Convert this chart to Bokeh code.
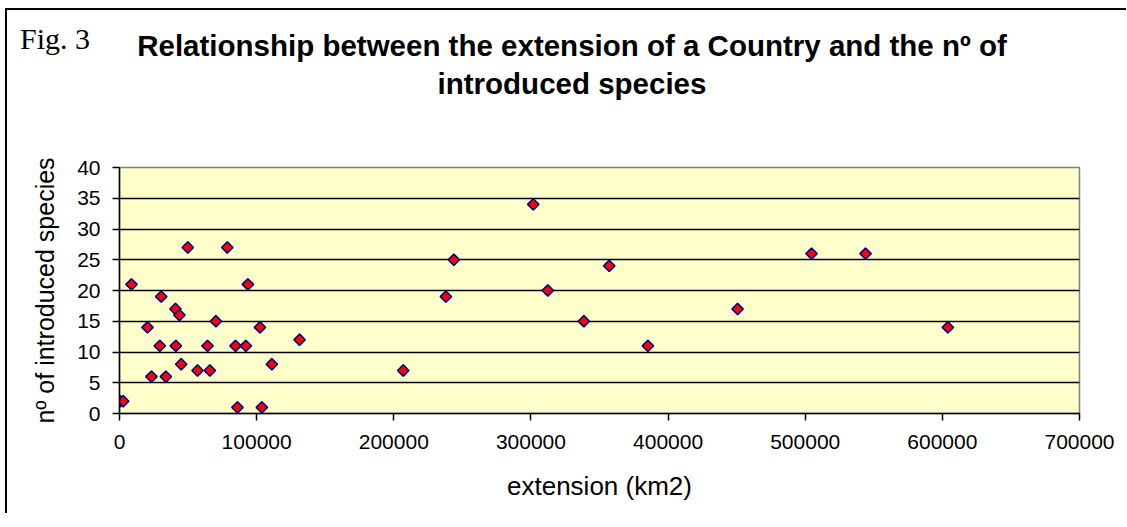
import math
from bokeh.plotting import figure
from bokeh.layouts import column
from bokeh.models import Range1d, FixedTicker, BasicTickFormatter, ColumnDataSource, Div
from bokeh.embed import file_html
from bokeh.resources import INLINE

# ---- data ----
extension_km2 = [500, 2700, 8750, 20400, 23300, 29400, 30400, 33800, 40800, 43700,
                 41100, 45000, 49800, 56900, 64200, 65900, 70300, 78600, 84600, 86000,
                 92100, 93600, 102400, 103800, 111100, 131300, 206900, 238000, 243800, 301700,
                 312300, 338600, 357100, 385300, 450700, 504600, 544000, 604000]
introduced_species = [2, 2, 21, 14, 6, 11, 19, 6, 17, 16,
                      11, 8, 27, 7, 11, 7, 15, 27, 11, 1,
                      11, 21, 14, 1, 8, 12, 7, 19, 25, 34,
                      20, 15, 24, 11, 17, 26, 26, 14]
x_ticks = [0, 100000, 200000, 300000, 400000, 500000, 600000, 700000]
y_ticks = [0, 5, 10, 15, 20, 25, 30, 35, 40]

fig_label = "Fig. 3"
title_line1 = "Relationship between the extension of a Country and the nº of"
title_line2 = "introduced species"
x_label = "extension (km2)"
y_label = "nº of introduced species"

source = ColumnDataSource(data=dict(x=extension_km2, y=introduced_species))

W = 1119

# ---- heading (figure number + two-line bold title) ----
heading_html = (
    '<div style="position:relative;width:%dpx;height:100px;">' % W
    + '<div style="position:absolute;left:13px;top:14px;white-space:nowrap;'
    'font-family:\'Liberation Serif\';font-size:30px;line-height:30px;color:black;">'
    + fig_label + '</div>'
    '<div style="position:absolute;left:65px;width:1000px;top:17px;text-align:center;'
    'font-family:\'Liberation Sans\';font-weight:bold;font-size:29.5px;line-height:38px;color:black;">'
    + title_line1 + '<br>' + title_line2 + '</div>'
    '</div>'
)
heading = Div(text=heading_html, width=W, height=100, margin=0)

p = figure(width=W, height=403,
           x_range=Range1d(x_ticks[0], x_ticks[-1]),
           y_range=Range1d(y_ticks[0], y_ticks[-1]),
           output_backend="svg", toolbar_location=None,
           min_border_left=112, min_border_right=W - 112 - 960,
           min_border_top=57, min_border_bottom=100, margin=0)

p.background_fill_color = "#FFFFCC"
p.border_fill_color = "white"
p.outline_line_color = "#808080"
p.outline_line_width = 1.5

# grid
p.xgrid.grid_line_color = None
p.ygrid.ticker = FixedTicker(ticks=y_ticks[1:-1])
p.ygrid.grid_line_color = "black"
p.ygrid.grid_line_width = 1.5

# axes
p.xaxis.ticker = FixedTicker(ticks=x_ticks)
p.yaxis.ticker = FixedTicker(ticks=y_ticks)
p.xaxis.formatter = BasicTickFormatter(use_scientific=False)
for ax in (p.xaxis[0], p.yaxis[0]):
    ax.axis_line_color = "black"
    ax.axis_line_width = 1.5
    ax.major_tick_line_color = "black"
    ax.major_tick_line_width = 1.5
    ax.major_tick_out = 7
    ax.major_tick_in = 0
    ax.minor_tick_line_color = None
    ax.major_label_text_font = "Liberation Sans"
    ax.major_label_text_font_size = "21px"
    ax.major_label_text_color = "black"
    ax.axis_label_text_font = "Liberation Sans"
    ax.axis_label_text_font_style = "normal"
    ax.axis_label_text_color = "black"

p.xaxis.axis_label = x_label
p.yaxis.axis_label = y_label
p.xaxis.axis_label_text_font_size = "26px"
p.yaxis.axis_label_text_font_size = "25px"
p.xaxis.major_label_standoff = 14
p.yaxis.major_label_standoff = 12
p.xaxis.axis_label_standoff = 19
p.yaxis.axis_label_standoff = 15

# points
p.scatter("x", "y", source=source, marker="square", angle=math.pi / 4,
          size=8, fill_color="#FF0000", line_color="#000080", line_width=1.6)

layout = column(heading, p, spacing=0)
layout.styles = {"border-left": "2px solid black", "border-top": "2px solid black",
                 "margin-left": "5px", "margin-top": "8px"}

open("out.html", "w").write(file_html(layout, INLINE))
